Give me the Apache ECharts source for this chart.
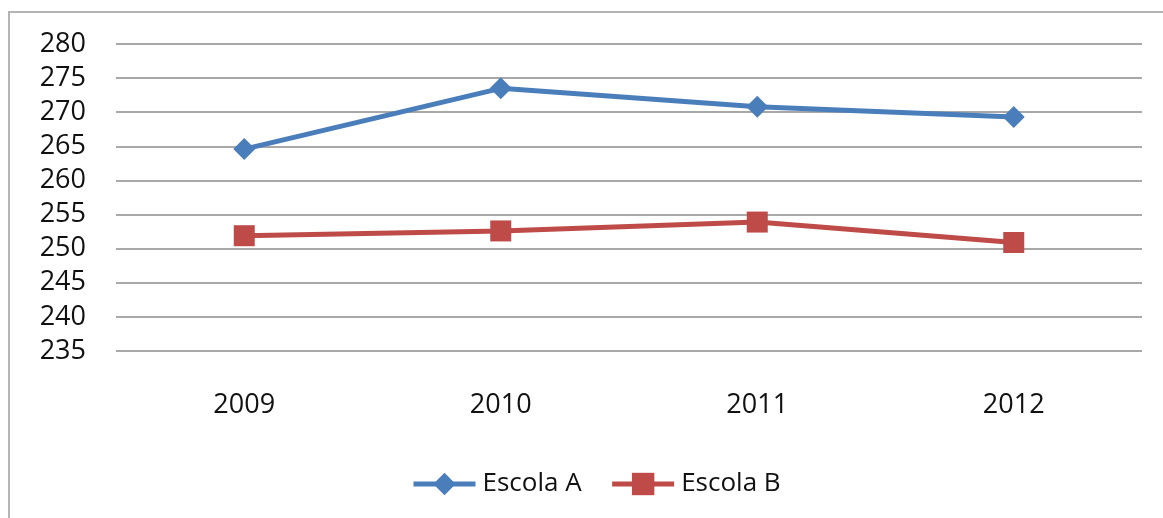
<!DOCTYPE html>
<html>
<head>
<meta charset="utf-8">
<script src="https://cdn.jsdelivr.net/npm/echarts@6/dist/echarts.min.js"></script>
<style>
  html, body { margin: 0; padding: 0; background: #fff; }
  #chart { width: 1163px; height: 518px; }
</style>
</head>
<body>
<div id="chart"></div>
<script>
// dados
var anos = ['2009', '2010', '2011', '2012'];
var escolaA = [264.6, 273.5, 270.8, 269.3];
var escolaB = [251.9, 252.6, 253.9, 250.9];

var chart = echarts.init(document.getElementById('chart'));

var option = {
  backgroundColor: '#fff',
  animation: false,
  textStyle: { fontFamily: 'Open Sans', color: '#111' },
  graphic: [{
    type: 'rect',
    shape: { x: 9, y: 12, width: 1200, height: 560 },
    style: { fill: 'none', stroke: '#b4b4b4', lineWidth: 2 },
    silent: true
  }],
  grid: { left: 116, right: 21, top: 44, bottom: 167 },
  legend: {
    bottom: 16,
    left: 406,
    itemWidth: 62,
    itemHeight: 28,
    itemGap: 28,
    lineStyle: { width: 5 },
    textStyle: { fontSize: 26, color: '#111', fontFamily: 'Open Sans', padding: [0, 0, 0, 2] },
    data: ['Escola A', 'Escola B']
  },
  xAxis: {
    type: 'category',
    data: anos,
    boundaryGap: true,
    axisLine: { show: false },
    axisTick: { show: false },
    axisLabel: { fontSize: 27, color: '#111', margin: 41 }
  },
  yAxis: {
    type: 'value',
    min: 235,
    max: 280,
    interval: 5,
    axisLine: { show: false },
    axisTick: { show: false },
    axisLabel: { fontSize: 27, color: '#111', margin: 30 },
    splitLine: { lineStyle: { color: '#a8a8a8', width: 2 } }
  },
  series: [
    {
      name: 'Escola A',
      type: 'line',
      data: escolaA,
      symbol: 'diamond',
      symbolSize: 22,
      color: '#4a7ebb',
      lineStyle: { width: 5, color: '#4a7ebb' },
      itemStyle: { color: '#4a7ebb' }
    },
    {
      name: 'Escola B',
      type: 'line',
      data: escolaB,
      symbol: 'rect',
      symbolSize: 21,
      color: '#be4b48',
      lineStyle: { width: 5, color: '#be4b48' },
      itemStyle: { color: '#be4b48' }
    }
  ]
};

chart.setOption(option, true);
</script>
</body>
</html>
